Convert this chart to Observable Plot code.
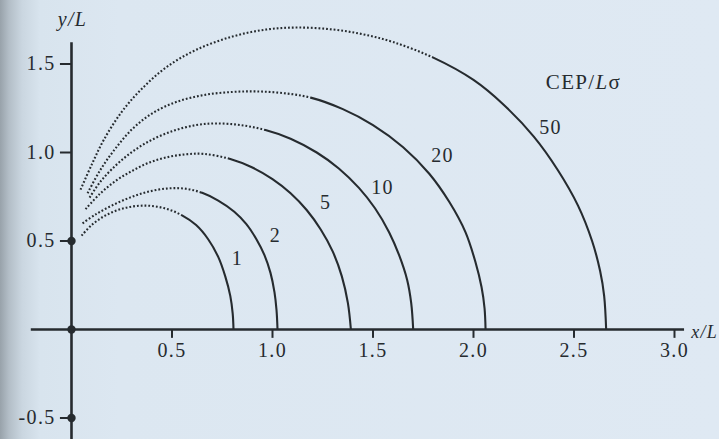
<!DOCTYPE html>
<html>
<head>
<meta charset="utf-8">
<script src="https://cdn.jsdelivr.net/npm/d3@7"></script>
<script src="https://cdn.jsdelivr.net/npm/@observablehq/plot@0.6"></script>
<style>
  html, body { margin: 0; padding: 0; width: 719px; height: 439px; overflow: hidden; }
  body {
    background: linear-gradient(to right, #98a2aa 0px, #b3bec7 9px, #cad6e0 22px, #d8e4ee 40px, #dce7f1 120px, #dfe9f3 100%);
  }
  #chart svg { display: block; }
  #chart text { letter-spacing: 1.3px; }
</style>
</head>
<body>
<div id="chart"></div>
<script>
// Contours of constant CEP/Lσ in the (x/L, y/L) plane.
const levels = [1, 2, 5, 10, 20, 50];

// Each contour: a dotted leg rising from the y axis, then a solid leg down to the x axis.
const dotted1 = [[0.05, 0.53], [0.10, 0.59], [0.17, 0.645], [0.26, 0.685], [0.36, 0.70], [0.46, 0.686], [0.55, 0.645]];
const solid1 = [[0.55, 0.645], [0.62, 0.59], [0.68, 0.51], [0.73, 0.41], [0.765, 0.30], [0.79, 0.19], [0.802, 0.09], [0.806, 0]];

const dotted2 = [[0.055, 0.60], [0.12, 0.65], [0.20, 0.70], [0.29, 0.745], [0.38, 0.778], [0.48, 0.797], [0.57, 0.795], [0.65, 0.772]];
const solid2 = [[0.65, 0.772], [0.73, 0.728], [0.81, 0.665], [0.87, 0.595], [0.92, 0.51], [0.96, 0.42], [0.99, 0.32], [1.01, 0.21], [1.02, 0.11], [1.025, 0]];

const dotted5 = [[0.07, 0.68], [0.14, 0.765], [0.22, 0.84], [0.30, 0.895], [0.38, 0.94], [0.47, 0.972], [0.57, 0.99], [0.66, 0.992], [0.79, 0.963]];
const solid5 = [[0.79, 0.963], [0.90, 0.915], [1.00, 0.85], [1.09, 0.77], [1.17, 0.675], [1.24, 0.565], [1.30, 0.44], [1.345, 0.30], [1.375, 0.15], [1.39, 0]];

const dotted10 = [[0.09, 0.745], [0.14, 0.83], [0.20, 0.905], [0.28, 0.985], [0.38, 1.06], [0.50, 1.12], [0.62, 1.155], [0.72, 1.164], [0.84, 1.155], [0.965, 1.127]];
const solid10 = [[0.965, 1.127], [1.09, 1.078], [1.22, 1.00], [1.33, 0.91], [1.43, 0.80], [1.51, 0.685], [1.58, 0.55], [1.63, 0.42], [1.67, 0.28], [1.69, 0.15], [1.70, 0]];

const dotted20 = [[0.08, 0.77], [0.14, 0.895], [0.21, 1.01], [0.30, 1.13], [0.40, 1.22], [0.52, 1.285], [0.66, 1.325], [0.80, 1.342], [0.92, 1.345], [1.05, 1.336], [1.19, 1.31]];
const solid20 = [[1.19, 1.31], [1.35, 1.245], [1.50, 1.155], [1.65, 1.03], [1.78, 0.88], [1.88, 0.72], [1.96, 0.55], [2.01, 0.38], [2.04, 0.24], [2.055, 0.12], [2.06, 0]];

const dotted50 = [[0.045, 0.79], [0.10, 0.93], [0.16, 1.07], [0.25, 1.23], [0.35, 1.36], [0.47, 1.48], [0.62, 1.58], [0.80, 1.655], [0.97, 1.695], [1.13, 1.706], [1.30, 1.695], [1.45, 1.668], [1.60, 1.624], [1.80, 1.536]];
const solid50 = [[1.80, 1.536], [2.0, 1.41], [2.15, 1.27], [2.30, 1.09], [2.42, 0.90], [2.52, 0.70], [2.59, 0.50], [2.63, 0.33], [2.65, 0.19], [2.66, 0]];

// Contour labels, placed just outside each curve
const levelLabelX = [0.826, 1.015, 1.264, 1.547, 1.846, 2.383];
const levelLabelY = [0.40, 0.53, 0.717, 0.80, 0.983, 1.141];

// Axes
const xTicks = [0.5, 1.0, 1.5, 2.0, 2.5, 3.0];
const xTickLabels = ["0.5", "1.0", "1.5", "2.0", "2.5", "3.0"];
const yTicks = [1.5, 1.0, 0.5, -0.5];
const yTickLabels = ["1.5", "1.0", "0.5", "-0.5"];
const markedY = [0.5, 0, -0.5];
const xAxisSpan = [-0.2, 3.05];
const yAxisSpan = [-0.63, 1.62];

const dottedParts = [dotted1, dotted2, dotted5, dotted10, dotted20, dotted50];
const solidParts = [solid1, solid2, solid5, solid10, solid20, solid50];

// One continuous path per contour, so the dotted and solid legs join smoothly
const contourRows = levels.flatMap((level, i) =>
  dottedParts[i].concat(solidParts[i].slice(1)).map(([x, y]) => ({level, x, y}))
);
const labelRows = levels.map((level, i) => ({level, x: levelLabelX[i], y: levelLabelY[i]}));

const ink = "#262b2f";
const serif = "'Liberation Serif', 'Times New Roman', serif";

const chart = Plot.plot({
  width: 719,
  height: 439,
  margin: 0,
  style: {background: "transparent", fontFamily: serif, color: ink},
  x: {domain: [-0.3532, 3.2239], axis: null},
  y: {domain: [-0.6215, 1.8588], axis: null},
  marks: [
    // axes through the origin
    Plot.ruleY([0], {x1: xAxisSpan[0], x2: xAxisSpan[1], stroke: ink, strokeWidth: 2.6}),
    Plot.ruleX([0], {y1: yAxisSpan[0], y2: yAxisSpan[1], stroke: ink, strokeWidth: 2.6}),
    Plot.ruleX(xTicks, {x: d => d, y1: 0, y2: -0.05, stroke: ink, strokeWidth: 2}),
    Plot.ruleY(yTicks, {y: d => d, x1: -0.055, x2: 0, stroke: ink, strokeWidth: 2}),
    Plot.dot(markedY, {x: () => 0, y: d => d, r: 4.2, fill: ink, stroke: "none"}),
    Plot.text(xTicks, {x: d => d, y: () => 0, dy: 21, text: (d, i) => xTickLabels[i], fontSize: 20, fill: ink}),
    Plot.text(yTicks, {x: () => 0, y: d => d, dx: -16, textAnchor: "end", text: (d, i) => yTickLabels[i], fontSize: 20, fill: ink}),
    Plot.text(["x/L"], {x: () => 3.083, y: () => 0, dy: 3, textAnchor: "start", text: d => d, fontSize: 18, fontStyle: "italic", fill: ink}),
    Plot.text(["y/L"], {x: () => 0.005, y: () => 1.751, text: d => d, fontSize: 20, fontStyle: "italic", fill: ink}),

    // contours
    Plot.line(contourRows, {x: "x", y: "y", z: "level", curve: "catmull-rom", stroke: ink, strokeWidth: 2.1, strokeLinecap: "butt"}),
    Plot.text(labelRows, {x: "x", y: "y", text: d => String(d.level), fontSize: 20, fill: ink}),
    Plot.text(["CEP/Lσ"], {x: () => 2.547, y: () => 1.395, text: d => d, fontSize: 21, fill: ink})
  ]
});

// Typeset the italic L of the contour title
chart.querySelectorAll("text").forEach(t => {
  if (t.textContent === "CEP/Lσ") {
    t.textContent = "";
    const ns = "http://www.w3.org/2000/svg";
    [["CEP/", "normal"], ["L", "italic"], ["σ", "normal"]].forEach(([s, style]) => {
      const span = document.createElementNS(ns, "tspan");
      span.setAttribute("font-style", style);
      span.textContent = s;
      t.appendChild(span);
    });
  }
});

document.getElementById("chart").appendChild(chart);

// Dot each contour up to the end of its dotted leg, solid beyond
const xScale = chart.scale("x");
const paths = chart.querySelectorAll('g[aria-label="line"] path');
paths.forEach((path, i) => {
  const legs = dottedParts[i];
  const xSwitch = xScale.apply(legs[legs.length - 1][0]);
  const total = path.getTotalLength();
  let lo = 0, hi = total;
  for (let k = 0; k < 40; k++) {
    const mid = (lo + hi) / 2;
    if (path.getPointAtLength(mid).x < xSwitch) lo = mid; else hi = mid;
  }
  const dot = 1.8, gap = 2.0;
  const dashes = [];
  let run = 0;
  while (run + dot + gap <= lo) { dashes.push(dot, gap); run += dot + gap; }
  dashes.push(total - run + 5, 0);
  path.setAttribute("stroke-dasharray", dashes.join(" "));
});
</script>
</body>
</html>
